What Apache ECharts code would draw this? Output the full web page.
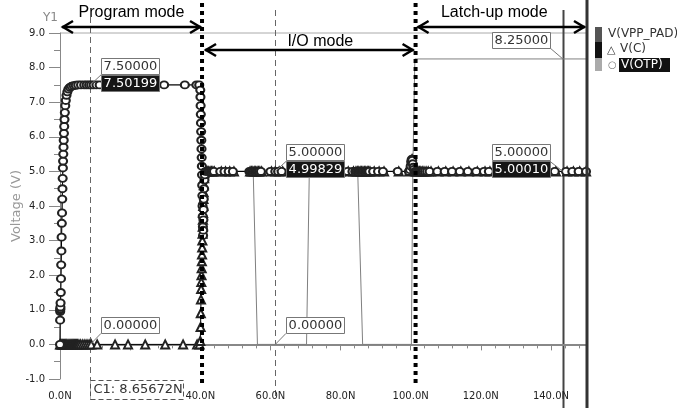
<!DOCTYPE html>
<html lang="en">
<head>
<meta charset="utf-8">
<title>OTP modes</title>
<script src="https://cdn.jsdelivr.net/npm/echarts@6/dist/echarts.min.js"></script>
<style>
    html, body { margin: 0; padding: 0; background: #fff; }
    #chart { width: 677px; height: 408px; }
</style>
</head>
<body>
<div id="chart"></div>
<script>
// [time (ns), voltage (V)]
var vppPad = [[0,0],[0.2,1.5],[0.5,3.6],[0.8,5.1],[1.1,6.1],[1.5,6.9],[2.1,7.3],[3.3,7.46],[5,7.5],[40,7.5],[40.6,5.0],
    [55.1,5.0],[56.3,0],[70.3,0],[71.1,5.0],[84.9,5.0],[86.3,0],[100.2,0],[100.6,5.0],[101.2,8.25],[150,8.25]];

var vC = [[0,0],[0.25,0],[0.5,0],[0.75,0],[1,0],[1.25,0],[1.5,0],[1.75,0],[2,0],[2.3,0],[2.6,0],[2.9,0],[3.2,0],[3.5,0],
    [3.8,0],[4.1,0],[4.4,0],[4.7,0],[5.0,0],[5.4,0],[5.9,0],[6.5,0],[7.1,0],[7.7,0],[8.3,0],[8.9,0],[10.6,0],[15.7,0],
    [19.4,0],[24.3,0],[30.0,0],[35.1,0],[39.1,0],[39.8,0],
    [40.0,0.1],[40.1,0.5],[40.15,0.9],[40.2,1.3],[40.25,1.6],[40.3,1.8],[40.35,2.0],[40.4,2.2],[40.45,2.4],[40.5,2.6],
    [40.55,2.8],[40.6,3.0],[40.65,3.2],[40.7,3.4],[40.75,3.6],[40.8,3.8],[40.85,4.0],[40.9,4.2],[40.95,4.4],[41.0,4.6],
    [41.1,4.8],[41.2,4.95],[41.4,5.05],[41.7,5.0],
    [42.0,5],[42.4,5],[42.8,5],[43.2,5],[43.6,5],[44.0,5],[46.0,5],[47.2,5],[48.4,5],[49.6,5],[54.2,5],[54.6,5],[55.0,5],
    [55.4,5],[55.8,5],[56.2,5],[56.6,5],[57.0,5],[57.5,5],[60.3,5],[61.4,4.998],[62.5,5],[63.5,5],[66,5],[70,5],[75,5],
    [80,5],[82.2,5],[83.7,5],[84.4,5],[84.8,5],[85.2,5],[85.6,5],[86.0,5],[86.4,5],[86.8,5],[87.2,5],[87.6,5],[88.0,5],
    [88.4,5],[89.6,5],[91.0,5],[92.4,5],[96.6,5],[99.6,5],[99.9,5.05],[100.1,5.15],[100.25,5.3],[100.4,5.35],[100.55,5.3],
    [100.7,5.2],[100.85,5.1],[101.0,5.05],[101.3,5],[101.7,5],[102.1,5],[102.5,5],[102.9,5],[103.3,5],[103.8,5],[104.4,5],
    [105.0,5],[105.8,5],[107.9,5],[110.0,5],[112.1,5],[114.3,5],[116.6,5],[119.0,5],[121.2,5],[122.6,5],[130,5],[141.4,5],
    [144.6,5],[146.4,5],[148.2,5],[150,5]];

var vOtp = [[0,0],[0.03,0.7],[0.05,0.95],[0.07,1.0],[0.09,1.03],[0.12,1.08],[0.16,1.2],[0.22,1.5],[0.28,1.9],[0.34,2.3],
    [0.4,2.7],[0.46,3.1],[0.52,3.5],[0.58,3.8],[0.64,4.2],[0.7,4.5],[0.76,4.8],[0.82,5.1],[0.88,5.3],[0.94,5.5],[1.0,5.7],
    [1.06,5.9],[1.12,6.1],[1.2,6.3],[1.28,6.5],[1.38,6.7],[1.5,6.9],[1.65,7.05],[1.85,7.2],[2.1,7.3],[2.4,7.38],[2.8,7.43],
    [3.3,7.46],[3.9,7.48],[4.5,7.49],[5.2,7.5],[6.0,7.5],[6.9,7.5],[7.6,7.5],[8.3,7.5],[8.9,7.5],[9.6,7.5],[10.4,7.5],
    [11.3,7.5],[29.7,7.5],[35.6,7.5],[38.9,7.5],[39.7,7.5],
    [40.0,7.35],[40.05,7.15],[40.1,6.9],[40.15,6.65],[40.2,6.4],[40.25,6.15],[40.3,5.9],[40.35,5.65],[40.4,5.4],[40.45,5.15],
    [40.5,4.9],[40.55,4.6],[40.6,4.3],[40.65,4.0],[40.7,3.7],[40.75,3.4],[40.8,3.15],[40.85,3.3],[40.9,3.6],[40.95,3.9],
    [41.0,4.2],[41.1,4.5],[41.2,4.75],[41.3,4.9],[41.5,5.0],
    [41.9,5],[42.3,5],[42.7,5],[43.1,5],[43.5,5],[43.9,5],[45.7,5],[46.9,5],[48.1,5],[49.3,5],[54.0,5],[54.4,5],[54.8,5],
    [55.2,5],[55.6,5],[56.0,5],[56.4,5],[56.8,5],[57.3,5],[60.0,5],[61.4,5.0],[62.2,5],[63.2,5],[67,5],[72,5],[78,5],
    [82.0,5],[83.4,5],[84.2,5],[84.6,5],[85.0,5],[85.4,5],[85.8,5],[86.2,5],[86.6,5],[87.0,5],[87.4,5],[87.8,5],[88.2,5],
    [89.3,5],[90.7,5],[92.1,5],[96.3,5],[99.5,5],[99.8,5.05],[100.0,5.15],[100.15,5.28],[100.3,5.35],[100.45,5.32],
    [100.6,5.22],[100.75,5.12],[100.9,5.06],[101.2,5.0],[101.6,5],[102.0,5],[102.4,5],[102.8,5],[103.2,5],[103.6,5],
    [104.1,5],[104.7,5],[105.4,5],[107.6,5],[109.7,5],[111.8,5],[114.0,5],[116.3,5],[118.7,5],[120.9,5],[122.3,5],[131,5],
    [141.1,5],[144.3,5],[146.1,5],[147.9,5],[150,5]];

// cursors and their readouts
var cursorTimes = [8.65672, 61.4, 143.4];
var cursorLabel = 'C1: 8.65672N';
var readoutCursor = [0, 0, 1, 1, 2, 2];
var readoutVolt = [7.5, 0, 5, 0, 8.25, 5];
var readoutRef = ['7.50000', '0.00000', '5.00000', '0.00000', '8.25000', '5.00000'];
var readoutVal = ['7.50199', null, '4.99829', null, null, '5.00010'];

// operating modes
var modeNames = ['Program mode', 'I/O mode', 'Latch-up mode'];
var modeBounds = [0, 40.5, 101.4, 150];

var legendNames = ['V(VPP_PAD)', 'V(C)', 'V(OTP)'];

var FONT = 'DejaVu Sans';
var chart = echarts.init(document.getElementById('chart'));

var option = {
    animation: false,
    backgroundColor: '#fff',
    grid: { left: 60, right: 91, top: 33, bottom: 29, outerBoundsMode: 'none', containLabel: false },
    xAxis: {
        type: 'value', min: 0, max: 150, interval: 20,
        axisLine: { lineStyle: { color: '#888', width: 2 } },
        axisTick: { length: 6, lineStyle: { color: '#888' } },
        minorTick: { show: true, splitNumber: 5, length: 4, lineStyle: { color: '#888' } },
        splitLine: { show: false },
        axisLabel: {
            margin: 12, color: '#222', fontFamily: FONT, fontSize: 10,
            formatter: function (v) { return v >= 150 ? '' : v.toFixed(1) + 'N'; }
        }
    },
    yAxis: {
        type: 'value', min: -1, max: 9, interval: 1,
        name: 'Voltage (V)', nameLocation: 'middle', nameGap: 37, nameMoveOverlap: false,
        nameTextStyle: { color: '#999', fontFamily: FONT, fontSize: 13 },
        axisLine: { show: true, lineStyle: { color: '#888' } },
        axisTick: { length: 11, lineStyle: { color: '#888' } },
        minorTick: { show: true, splitNumber: 2, length: 6, lineStyle: { color: '#888' } },
        splitLine: { show: false },
        axisLabel: {
            margin: 15, color: '#222', fontFamily: FONT, fontSize: 10,
            formatter: function (v) { return v.toFixed(1); }
        }
    },
    series: [
        { name: legendNames[0], type: 'line', data: vppPad, showSymbol: false,
          lineStyle: { color: '#808080', width: 1 }, z: 2 },
        { name: legendNames[1], type: 'line', data: vC, symbol: 'emptyTriangle', symbolSize: 8, showAllSymbol: true,
          lineStyle: { color: '#000', width: 1 }, itemStyle: { color: '#222', borderWidth: 1 }, z: 3 },
        { name: legendNames[2], type: 'line', data: vOtp, symbol: 'emptyCircle', symbolSize: [8, 7], showAllSymbol: true,
          lineStyle: { color: '#000', width: 1 }, itemStyle: { color: '#222', borderWidth: 1 }, z: 4 }
    ]
};
chart.setOption(option);

function px(t, v) { return chart.convertToPixel({ gridIndex: 0 }, [t, v]); }

var g = [];
var top0 = px(0, 9), bot0 = px(150, -1);

// top border of the plot
g.push({ type: 'line', shape: { x1: top0[0], y1: top0[1], x2: bot0[0], y2: top0[1] },
    style: { stroke: '#aaa', lineWidth: 1 } });

// cursors
cursorTimes.forEach(function (t, i) {
    var x = Math.round(px(t, 0)[0]) + 0.5;
    if (i < 2) {
        g.push({ type: 'line', shape: { x1: x, y1: i == 0 ? 17 : 10, x2: x, y2: 400 },
            style: { stroke: '#666', lineWidth: 1, lineDash: [6, 4] } });
    } else {
        g.push({ type: 'line', shape: { x1: x, y1: 10, x2: x, y2: 408 },
            style: { stroke: '#444', lineWidth: 2 } });
    }
});

// C1 label under the axis
var c1x = Math.round(px(cursorTimes[0], 0)[0]) + 0.5;
g.push({ type: 'rect', shape: { x: c1x, y: 380.5, width: 93, height: 19 },
    style: { fill: '#fff', stroke: '#555', lineWidth: 1, lineDash: [5, 3] }, z: 100 });
g.push({ type: 'text', x: c1x + 3, y: 390,
    style: { text: cursorLabel, font: '13px ' + FONT, fill: '#333', verticalAlign: 'middle' }, z: 101 });

// readouts
readoutVolt.forEach(function (v, i) {
    var p = px(cursorTimes[readoutCursor[i]], v);
    var right = readoutCursor[i] < 2;
    var w = 58, h = 16;
    var bx = right ? Math.round(p[0]) + 11 : Math.round(p[0]) - 13 - w;
    var ty = Math.round(p[1]) - 27;
    var edge = right ? bx : bx + w;
    var ly = readoutVal[i] ? p[1] - 10 : p[1] - 11;
    g.push({ type: 'line', shape: { x1: p[0], y1: p[1], x2: edge, y2: ly },
        style: { stroke: '#777', lineWidth: 1 }, z: 100 });
    g.push({ type: 'rect', shape: { x: bx + 0.5, y: ty + 0.5, width: w, height: h },
        style: { fill: '#fff', stroke: '#777', lineWidth: 1 }, z: 100 });
    g.push({ type: 'text', x: bx + w / 2 + 0.5, y: ty + h / 2 + 1,
        style: { text: readoutRef[i], font: '13px ' + FONT, fill: '#333', align: 'center', verticalAlign: 'middle' }, z: 101 });
    if (readoutVal[i]) {
        g.push({ type: 'rect', shape: { x: bx + 0.5, y: ty + 17.5, width: w, height: h },
            style: { fill: '#151515', stroke: '#777', lineWidth: 1 }, z: 100 });
        g.push({ type: 'text', x: bx + w / 2 + 0.5, y: ty + 17 + h / 2 + 1,
            style: { text: readoutVal[i], font: '13px ' + FONT, fill: '#fff', align: 'center', verticalAlign: 'middle' }, z: 101 });
    }
});

// mode separators (dotted)
[modeBounds[1], modeBounds[2]].forEach(function (t) {
    var x = px(t, 0)[0];
    g.push({ type: 'line', shape: { x1: x, y1: 3, x2: x, y2: 383 },
        style: { stroke: '#000', lineWidth: 4, lineDash: [4, 4] }, z: 200 });
});

// mode arrows
var arrowY = [27, 50, 27], textY = [13, 42, 13], textDx = [0, 11, -7];
modeNames.forEach(function (name, i) {
    var x1 = px(modeBounds[i], 0)[0] + 2, x2 = px(modeBounds[i + 1], 0)[0] - 1;
    if (i == 1) { x1 += 1; x2 -= 1; }
    var y = arrowY[i];
    g.push({ type: 'line', shape: { x1: x1, y1: y, x2: x2, y2: y }, style: { stroke: '#000', lineWidth: 2.5 }, z: 210 });
    g.push({ type: 'polyline', shape: { points: [[x1 + 11, y - 6], [x1 + 1, y], [x1 + 11, y + 6]] },
        style: { stroke: '#000', lineWidth: 2.5, fill: null }, z: 210 });
    g.push({ type: 'polyline', shape: { points: [[x2 - 11, y - 6], [x2 - 1, y], [x2 - 11, y + 6]] },
        style: { stroke: '#000', lineWidth: 2.5, fill: null }, z: 210 });
    g.push({ type: 'text', x: (x1 + x2) / 2 + textDx[i], y: textY[i],
        style: { text: name, font: '16px "Liberation Sans"', fill: '#000', align: 'center', verticalAlign: 'middle' }, z: 210 });
});

// right border
g.push({ type: 'line', shape: { x1: 587, y1: 0, x2: 587, y2: 408 }, style: { stroke: '#333', lineWidth: 3 }, z: 150 });

// Y1 tag
g.push({ type: 'text', x: 43, y: 18, style: { text: 'Y1', font: '12px ' + FONT, fill: '#888', verticalAlign: 'middle' } });

// legend
g.push({ type: 'rect', shape: { x: 595, y: 27, width: 7, height: 15 }, style: { fill: '#555' } });
g.push({ type: 'rect', shape: { x: 595, y: 42, width: 7, height: 16 }, style: { fill: '#111' } });
g.push({ type: 'rect', shape: { x: 595, y: 58, width: 7, height: 13 }, style: { fill: '#aaa' } });
g.push({ type: 'text', x: 608, y: 34, style: { text: legendNames[0], font: '12px ' + FONT, fill: '#333', verticalAlign: 'middle' } });
g.push({ type: 'text', x: 607, y: 50, style: { text: '\u25B3', font: '11px ' + FONT, fill: '#333', verticalAlign: 'middle' } });
g.push({ type: 'text', x: 620, y: 49, style: { text: legendNames[1], font: '12px ' + FONT, fill: '#333', verticalAlign: 'middle' } });
g.push({ type: 'text', x: 608, y: 65, style: { text: '\u25CB', font: '10px ' + FONT, fill: '#777', verticalAlign: 'middle' } });
g.push({ type: 'rect', shape: { x: 619, y: 58, width: 51, height: 14 }, style: { fill: '#111' } });
g.push({ type: 'text', x: 621, y: 65, style: { text: legendNames[2], font: '12px ' + FONT, fill: '#fff', verticalAlign: 'middle' } });

chart.setOption({ graphic: g });
</script>
</body>
</html>
